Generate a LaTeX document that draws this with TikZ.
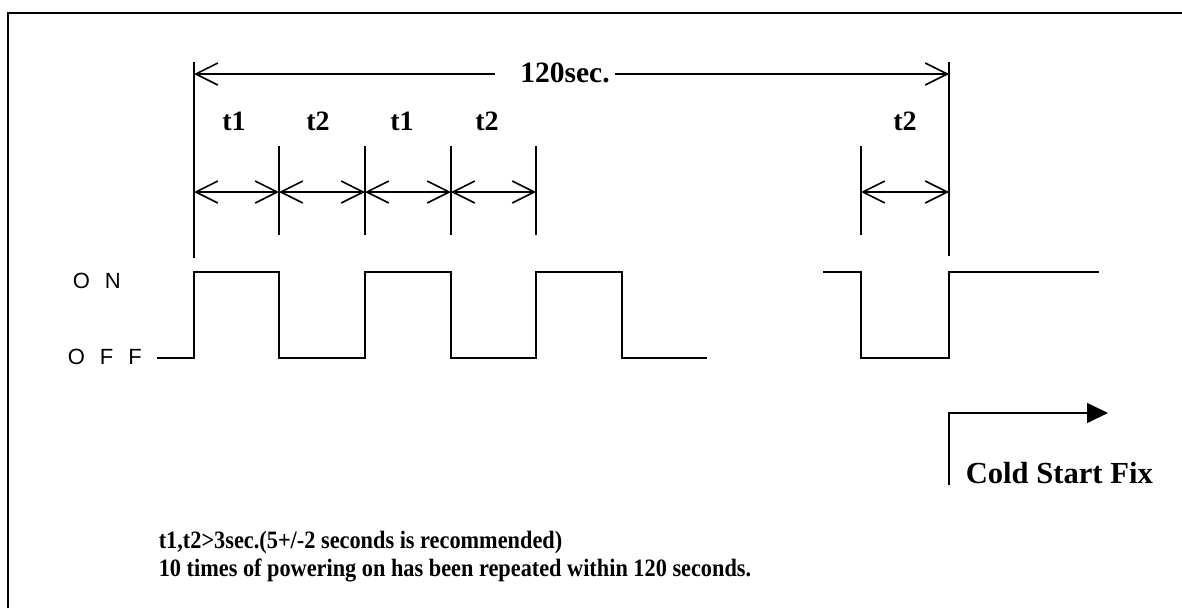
\documentclass[tikz,border=0pt]{standalone}
\usepackage{fontspec}
\setmainfont{Liberation Serif}
\setsansfont{Liberation Sans}
\usetikzlibrary{arrows.meta}
\begin{document}
\begin{tikzpicture}[x=1pt,y=-1pt,line width=1.6pt,
  barb/.tip={Straight Barb[length=22pt,width=22pt]},
  dimline/.style={barb-barb},
  wave/.style={line width=1.6pt,line join=miter},
  lbl/.style={inner sep=0pt,font=\bfseries\fontsize{28}{30}\selectfont,anchor=base},
  note/.style={inner sep=0pt,font=\bfseries\fontsize{22.3}{26}\selectfont,anchor=base west},
  lvl/.style={inner sep=0pt,font=\sffamily\fontsize{22}{24}\selectfont,anchor=base west}]
\useasboundingbox (0,0) rectangle (1182,608);
% frame
\draw[line width=2.6pt] (8,608) -- (8,13) -- (1182,13);
% levels
\node[lvl] (on) at (72,288) {O\hspace{15pt}N};
\node[lvl] (off) at (67,364) {O\hspace{15pt}F\hspace{15pt}F};
% waveform coordinates
\coordinate (w0) at (157,358);
\coordinate (w1) at (194,358); \coordinate (w2) at (194,272);
\coordinate (w3) at (279,272); \coordinate (w4) at (279,358);
\coordinate (w5) at (365,358); \coordinate (w6) at (365,272);
\coordinate (w7) at (451,272); \coordinate (w8) at (451,358);
\coordinate (w9) at (536,358); \coordinate (w10) at (536,272);
\coordinate (w11) at (622,272); \coordinate (w12) at (622,358);
\coordinate (w13) at (707,358);
\draw[wave] (w0) -- (w1) -- (w2) -- (w3) -- (w4) -- (w5) -- (w6) -- (w7) -- (w8) -- (w9) -- (w10) -- (w11) -- (w12) -- (w13);
\coordinate (v0) at (823,272); \coordinate (v1) at (861,272);
\coordinate (v2) at (861,358); \coordinate (v3) at (949,358);
\coordinate (v4) at (949,272); \coordinate (v5) at (1099,272);
\draw[wave] (v0) -- (v1) -- (v2) -- (v3) -- (v4) -- (v5);
% extension lines
\coordinate (e0t) at (194,62); \coordinate (e0b) at (194,258);
\coordinate (e5t) at (949,62); \coordinate (e5b) at (949,256);
\draw (e0t) -- (e0b);
\draw (e5t) -- (e5b);
\foreach \x/\n in {279/1,365/2,451/3,536/4,861/6}{
  \coordinate (t\n t) at (\x,146); \coordinate (t\n b) at (\x,235);
  \draw (t\n t) -- (t\n b);
}
% dimension arrows
\coordinate (d0) at (194,192); \coordinate (d1) at (279,192);
\coordinate (d2) at (365,192); \coordinate (d3) at (451,192);
\coordinate (d4) at (536,192); \coordinate (d6) at (861,192);
\coordinate (d7) at (949,192);
\draw[dimline] (d0) -- (d1);
\draw[dimline] (d1) -- (d2);
\draw[dimline] (d2) -- (d3);
\draw[dimline] (d3) -- (d4);
\draw[dimline] (d6) -- (d7);
% labels
\node[lbl] (la) at (234,130) {t1};
\node[lbl] (lb) at (318,130) {t2};
\node[lbl] (lc) at (402,130) {t1};
\node[lbl] (ld) at (487,130) {t2};
\node[lbl] (le) at (905,130) {t2};
% 120 sec
\node[lbl,font=\bfseries\fontsize{29.5}{31}\selectfont] (sec) at (565,82) {120sec.};
\coordinate (sa) at (194,74); \coordinate (sb) at (495,74);
\coordinate (sc) at (615,74); \coordinate (sd) at (949,74);
\draw[barb-] (sa) -- (sb);
\draw[-barb] (sc) -- (sd);
% cold start
\coordinate (c0) at (949,485); \coordinate (c1) at (949,413);
\coordinate (c2) at (1108,413);
\draw[-{Triangle[length=21pt,width=20pt]}] (c0) -- (c1) -- (c2);
\node[note,font=\bfseries\fontsize{30.6}{32}\selectfont] (cold) at (965,483) {Cold Start Fix};
% notes
\node[note] (n1) at (158,548) {\scalebox{1}[1.12]{t1,t2>3sec.(5+/-2 seconds is recommended)}};
\node[note] (n2) at (158,576) {\scalebox{1}[1.12]{10 times of powering on has been repeated within 120 seconds.}};
\end{tikzpicture}
\end{document}
